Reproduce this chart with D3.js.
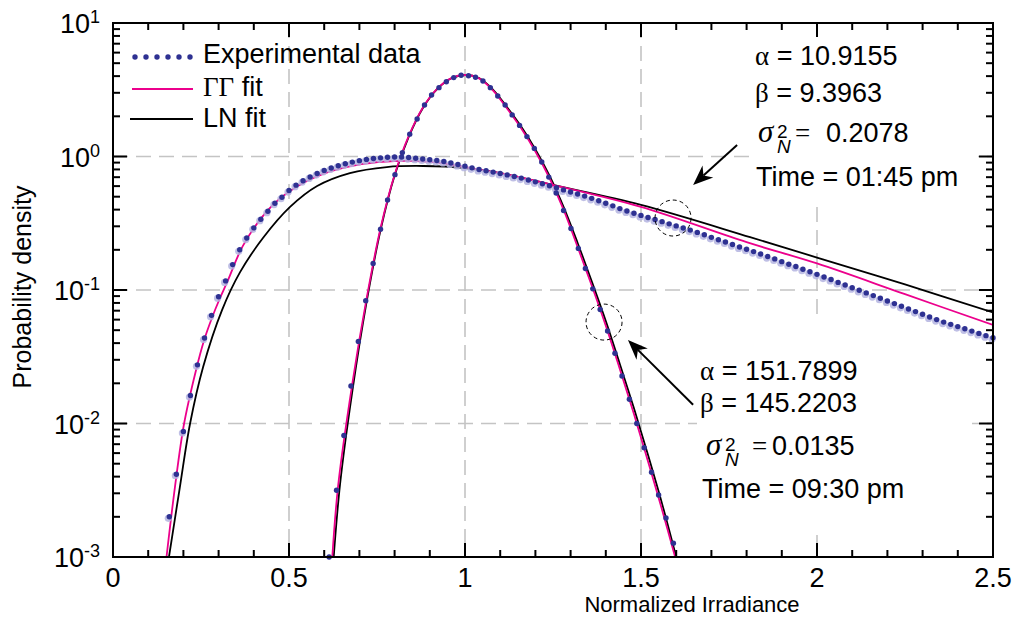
<!DOCTYPE html>
<html>
<head>
<meta charset="utf-8">
<script src="https://cdn.jsdelivr.net/npm/d3@7"></script>
<style>
  body { margin: 0; background: #fff; }
</style>
</head>
<body>
<script>
// ---- data ----
// experimental histogram, 01:45 pm (broad)
const broadX = [0.16,0.18,0.20,0.22,0.24,0.26,0.28,0.30,0.32,0.34,
  0.36,0.38,0.40,0.42,0.44,0.46,0.48,0.50,0.52,0.54,
  0.56,0.58,0.60,0.62,0.64,0.66,0.68,0.70,0.72,0.74,
  0.76,0.78,0.80,0.82,0.84,0.86,0.88,0.90,0.92,0.94,
  0.96,0.98,1.00,1.02,1.04,1.06,1.08,1.10,1.12,1.14,
  1.16,1.18,1.20,1.22,1.24,1.26,1.28,1.30,1.32,1.34,
  1.36,1.38,1.40,1.42,1.44,1.46,1.48,1.50,1.52,1.54,
  1.56,1.58,1.60,1.62,1.64,1.66,1.68,1.70,1.72,1.74,
  1.76,1.78,1.80,1.82,1.84,1.86,1.88,1.90,1.92,1.94,
  1.96,1.98,2.00,2.02,2.04,2.06,2.08,2.10,2.12,2.14,
  2.16,2.18,2.20,2.22,2.24,2.26,2.28,2.30,2.32,2.34,
  2.36,2.38,2.40,2.42,2.44,2.46,2.48,2.50];
const broadY = [0.00200,0.00417,0.00871,0.0162,0.0275,0.0437,0.0646,0.0891,0.117,0.155,
  0.200,0.245,0.292,0.339,0.389,0.447,0.495,0.556,0.610,0.658,
  0.703,0.745,0.787,0.820,0.853,0.883,0.908,0.931,0.951,0.966,
  0.977,0.986,0.991,0.991,0.982,0.971,0.959,0.946,0.933,0.918,
  0.895,0.871,0.847,0.822,0.800,0.782,0.764,0.746,0.728,0.708,
  0.689,0.667,0.646,0.625,0.604,0.583,0.562,0.542,0.524,0.505,
  0.486,0.466,0.446,0.427,0.407,0.391,0.376,0.362,0.349,0.337,
  0.325,0.313,0.302,0.291,0.281,0.270,0.259,0.248,0.238,0.229,
  0.219,0.210,0.202,0.194,0.186,0.178,0.171,0.163,0.156,0.150,
  0.143,0.137,0.131,0.125,0.120,0.114,0.109,0.104,0.0995,0.0951,
  0.0908,0.0867,0.0828,0.0791,0.0755,0.0721,0.0689,0.0658,0.0628,0.0600,
  0.0575,0.0553,0.0532,0.0512,0.0492,0.0473,0.0455,0.0439];

// experimental histogram, 09:30 pm (narrow)
const narrowX = [0.614,0.635,0.656,0.676,0.697,0.718,0.739,0.760,0.780,0.801,
  0.822,0.843,0.864,0.885,0.905,0.926,0.947,0.968,0.989,1.010,
  1.030,1.051,1.072,1.093,1.114,1.134,1.155,1.176,1.197,1.218,
  1.238,1.259,1.280,1.301,1.322,1.342,1.363,1.384,1.405,1.426,
  1.446,1.467,1.488,1.509,1.530,1.550,1.571,1.592];
const narrowY = [0.00100,0.00316,0.00813,0.0191,0.0412,0.0832,0.158,0.285,0.472,0.731,
  1.07,1.47,1.91,2.43,2.89,3.28,3.63,3.90,4.06,4.03,
  3.92,3.68,3.28,2.84,2.43,2.05,1.71,1.41,1.15,0.910,
  0.701,0.533,0.394,0.289,0.205,0.145,0.102,0.0714,0.0493,0.0336,
  0.0227,0.0152,0.0100,0.00659,0.00431,0.00291,0.00196,0.00127];

// fitted curves [irradiance, density]
const ggBroad = [[0.152,0.001],[0.176,0.00334],[0.202,0.01],[0.236,0.0252],[0.259,0.0422],[0.281,0.0617],
  [0.304,0.0871],[0.327,0.119],[0.369,0.214],[0.440,0.397],[0.503,0.552],[0.597,0.740],[0.710,0.879],
  [0.801,0.925],[0.901,0.910],[1.00,0.834],[1.10,0.750],[1.25,0.612],[1.50,0.419],[1.80,0.228],
  [2.00,0.158],[2.25,0.093],[2.50,0.0547]];
const lnBroad = [[0.159,0.001],[0.19,0.00334],[0.219,0.01],[0.256,0.0265],[0.310,0.071],[0.361,0.136],
  [0.426,0.245],[0.503,0.419],[0.580,0.601],[0.673,0.751],[0.778,0.834],[0.881,0.849],[1.00,0.820],
  [1.10,0.750],[1.25,0.612],[1.50,0.434],[1.81,0.249],[2.00,0.175],[2.25,0.110],[2.50,0.068]];
const ggNarrow = [[0.623,0.001],[0.64,0.0035],[0.68,0.020],[0.72,0.085],[0.76,0.29],[0.80,0.73],
  [0.84,1.42],[0.88,2.32],[0.92,3.2],[0.96,3.85],[1.00,4.08],[1.04,3.85],[1.08,3.12],[1.12,2.28],
  [1.16,1.62],[1.20,1.09],[1.24,0.69],[1.28,0.40],[1.32,0.210],[1.36,0.108],[1.40,0.054],
  [1.44,0.0255],[1.48,0.0118],[1.52,0.0052],[1.56,0.00225],[1.597,0.001]];
const lnNarrow = [[0.627,0.001],[0.645,0.0035],[0.68,0.0175],[0.72,0.080],[0.76,0.28],[0.80,0.72],
  [0.84,1.40],[0.88,2.30],[0.92,3.18],[0.96,3.84],[1.00,4.08],[1.04,3.87],[1.08,3.16],[1.12,2.33],
  [1.16,1.67],[1.20,1.13],[1.24,0.72],[1.28,0.42],[1.32,0.225],[1.36,0.116],[1.40,0.0585],
  [1.44,0.0278],[1.48,0.0130],[1.52,0.0058],[1.56,0.0025],[1.600,0.001]];

const xTicks = [0, 0.5, 1, 1.5, 2, 2.5];
const xTickLabels = ["0", "0.5", "1", "1.5", "2", "2.5"];
const yDecades = [-3, -2, -1, 0, 1];

// annotation anchors in data units
const circles = [[1.591, 0.346], [1.395, 0.0575]];
const arrows = [[[1.773, 1.22], [1.648, 0.612]], [[1.648, 0.0138], [1.463, 0.0422]]];

// ---- layout ----
const width = 1020, height = 622;
const sans = "'Liberation Sans', Arial, Helvetica, sans-serif";
const serif = "'Liberation Serif', 'Times New Roman', serif";
const pink = "#ec008c", dotBlue = "#2e3192";
const fs = 27;

const svg = d3.select("body").append("svg")
  .attr("width", width).attr("height", height)
  .style("font-family", sans);

const x = d3.scaleLinear().domain([0, 2.5]).range([113, 993]);
const y = d3.scaleLog().domain([1e-3, 10]).range([557, 23]);
const [x0, x1] = x.range(), [y0, y1] = y.range();

svg.append("clipPath").attr("id", "plot")
  .append("rect").attr("x", x0).attr("y", y1).attr("width", x1 - x0).attr("height", y0 - y1);

// grid
const grid = svg.append("g").attr("stroke", "#c4c4c4").attr("stroke-width", 1.6)
  .attr("stroke-dasharray", "15,8");
grid.selectAll("line.v").data(xTicks.slice(1, -1)).join("line")
  .attr("x1", d => x(d)).attr("x2", d => x(d)).attr("y1", y1).attr("y2", y0);
grid.selectAll("line.h").data(yDecades.slice(1, -1)).join("line")
  .attr("x1", x0).attr("x2", x1).attr("y1", d => y(10 ** d)).attr("y2", d => y(10 ** d));

// text backgrounds hide the grid
svg.append("rect").attr("x", 752).attr("y", y1 + 1).attr("width", 226).attr("height", 177).attr("fill", "#fff");
svg.append("rect").attr("x", 697).attr("y", 318).attr("width", 275).attr("height", 217).attr("fill", "#fff");

// curves
const line = d3.line().x(d => x(d[0])).y(d => y(d[1])).curve(d3.curveCatmullRom.alpha(0.5));
const curves = svg.append("g").attr("clip-path", "url(#plot)").attr("fill", "none").attr("stroke-width", 1.8);
curves.append("path").attr("d", line(lnBroad)).attr("stroke", "#000");
curves.append("path").attr("d", line(lnNarrow)).attr("stroke", "#000");
curves.append("path").attr("d", line(ggBroad)).attr("stroke", pink);
curves.append("path").attr("d", line(ggNarrow)).attr("stroke", pink);

// experimental points
const broad = broadX.map((v, i) => [v, broadY[i]]);
const narrow = narrowX.map((v, i) => [v, narrowY[i]]);
svg.append("g").selectAll("circle").data(broad).join("circle")
  .attr("cx", d => x(d[0]) - 1).attr("cy", d => y(d[1]) + 1.5).attr("r", 3.6)
  .attr("fill", "#b4b4e0").attr("opacity", 0.85);
svg.append("g").selectAll("circle").data(broad).join("circle")
  .attr("cx", d => x(d[0])).attr("cy", d => y(d[1])).attr("r", 2.7).attr("fill", dotBlue);
svg.append("g").selectAll("circle").data(narrow).join("circle")
  .attr("cx", d => x(d[0])).attr("cy", d => y(d[1])).attr("r", 2.7).attr("fill", dotBlue);

// dashed circles and arrows
svg.append("g").selectAll("circle").data(circles).join("circle")
  .attr("cx", d => x(d[0])).attr("cy", d => y(d[1])).attr("r", 18)
  .attr("fill", "none").attr("stroke", "#000").attr("stroke-width", 1).attr("stroke-dasharray", "4,3");

arrows.forEach(([a, b]) => {
  const ax = x(a[0]), ay = y(a[1]), bx = x(b[0]), by = y(b[1]);
  const ang = Math.atan2(by - ay, bx - ax);
  const c = Math.cos(ang), s = Math.sin(ang);
  const L = 20, W = 8, N = 14;
  const p = (back, side) => [bx - c * back - s * side, by - s * back + c * side];
  svg.append("line").attr("x1", ax).attr("y1", ay)
    .attr("x2", p(N, 0)[0]).attr("y2", p(N, 0)[1]).attr("stroke", "#000").attr("stroke-width", 2);
  svg.append("polygon").attr("points", [[bx, by], p(L, W), p(N, 0), p(L, -W)].map(q => q.join(",")).join(" "))
    .attr("fill", "#000");
});

// axes: frame and ticks
const axes = svg.append("g").attr("stroke", "#000").attr("stroke-width", 2);
axes.append("rect").attr("x", x0).attr("y", y1).attr("width", x1 - x0).attr("height", y0 - y1).attr("fill", "none");

const xMinor = d3.range(0, 26).map(i => i / 10);
const yTickVals = [];
yDecades.slice(0, -1).forEach(e => { for (let m = 1; m < 10; m++) yTickVals.push(m * 10 ** e); });
yTickVals.push(10);

xMinor.forEach(v => {
  const major = Math.abs(v * 2 - Math.round(v * 2)) < 1e-6;
  const len = major ? 14 : 7;
  axes.append("line").attr("x1", x(v)).attr("x2", x(v)).attr("y1", y0).attr("y2", y0 - len);
  axes.append("line").attr("x1", x(v)).attr("x2", x(v)).attr("y1", y1).attr("y2", y1 + len);
});
yTickVals.forEach(v => {
  const major = Math.abs(Math.log10(v) - Math.round(Math.log10(v))) < 1e-6;
  const len = major ? 14 : 7;
  axes.append("line").attr("x1", x0).attr("x2", x0 + len).attr("y1", y(v)).attr("y2", y(v));
  axes.append("line").attr("x1", x1).attr("x2", x1 - len).attr("y1", y(v)).attr("y2", y(v));
});

// tick labels
svg.append("g").selectAll("text").data(xTicks).join("text")
  .attr("x", d => x(d)).attr("y", 587).attr("text-anchor", "middle")
  .attr("font-size", fs).text((d, i) => xTickLabels[i]);

const yl = svg.append("g").selectAll("text").data(yDecades).join("text")
  .attr("x", 100).attr("y", d => y(10 ** d) + 10).attr("text-anchor", "end");
yl.append("tspan").attr("font-size", fs).text("10");
yl.append("tspan").attr("font-size", 18).attr("dy", -10).text(d => String(d));

// axis titles
svg.append("text").attr("x", 692).attr("y", 612).attr("text-anchor", "middle")
  .attr("font-size", 22).text("Normalized Irradiance");
svg.append("text").attr("transform", "translate(31,287) rotate(-90)").attr("text-anchor", "middle")
  .attr("font-size", 25).text("Probability density");

// legend
const lg = svg.append("g");
lg.selectAll("circle").data(d3.range(6)).join("circle")
  .attr("cx", d => 135 + d * 11).attr("cy", 57).attr("r", 2.7).attr("fill", dotBlue);
lg.append("line").attr("x1", 132).attr("x2", 193).attr("y1", 89).attr("y2", 89).attr("stroke", pink).attr("stroke-width", 1.8);
lg.append("line").attr("x1", 130).attr("x2", 193).attr("y1", 119).attr("y2", 119).attr("stroke", "#000").attr("stroke-width", 1.8);
lg.append("text").attr("x", 203).attr("y", 63).attr("font-size", fs).text("Experimental data");
const gg = lg.append("text").attr("x", 203).attr("y", 96).attr("font-size", fs);
gg.append("tspan").attr("font-family", serif).text("ΓΓ");
gg.append("tspan").text(" fit");
lg.append("text").attr("x", 203).attr("y", 127).attr("font-size", fs).text("LN fit");

// parameter annotations
function param(px, py, greek, value) {
  const t = svg.append("text").attr("x", px).attr("y", py).attr("font-size", fs);
  t.append("tspan").attr("font-family", serif).text(greek);
  t.append("tspan").text(" = " + value);
}
function sigma(px, py, eqX, numX, value) {
  const t = svg.append("text").attr("y", py).attr("font-size", fs);
  t.append("tspan").attr("x", px).attr("font-family", serif).attr("font-style", "italic")
    .attr("font-size", 31).text("σ");
  t.append("tspan").attr("x", px + 19).attr("y", py - 4).attr("font-size", 19).text("2");
  t.append("tspan").attr("x", px + 19).attr("y", py + 11).attr("font-size", 19)
    .attr("font-style", "italic").text("N");
  t.append("tspan").attr("x", eqX).attr("y", py).attr("font-family", serif).text("=");
  t.append("tspan").attr("x", numX).attr("y", py).text(value);
}

param(755, 65, "α", "10.9155");
param(755, 102, "β", "9.3963");
sigma(758, 142, 795, 826, "0.2078");
svg.append("text").attr("x", 756).attr("y", 186).attr("font-size", fs).text("Time = 01:45 pm");

param(700, 380, "α", "151.7899");
param(700, 412, "β", "145.2203");
sigma(706, 455, 752, 772, "0.0135");
svg.append("text").attr("x", 702).attr("y", 498).attr("font-size", fs).text("Time = 09:30 pm");
</script>
</body>
</html>
